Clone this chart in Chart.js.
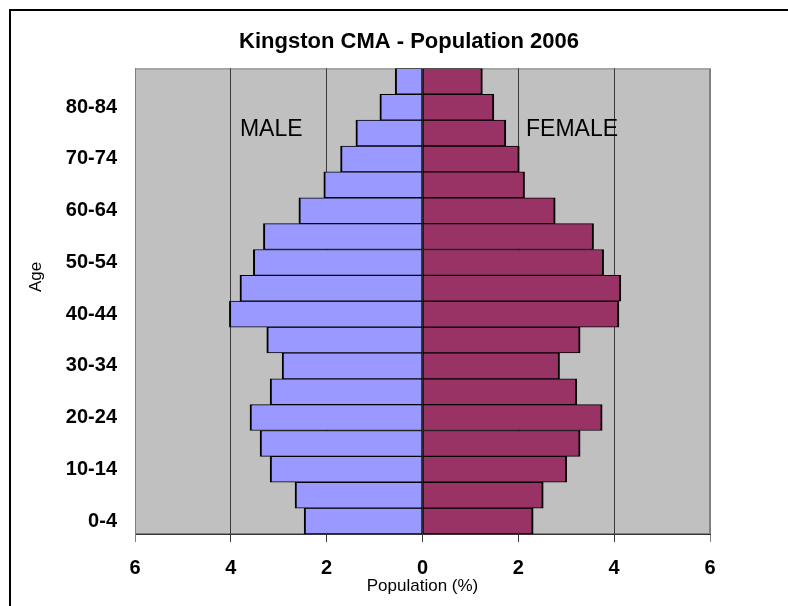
<!DOCTYPE html>
<html lang="en">
<head>
    <meta charset="UTF-8">
    <title>Kingston CMA - Population 2006</title>
    <script src="https://cdn.jsdelivr.net/npm/chart.js"></script>
    <style>
        body {
            margin: 0;
            overflow: hidden;
            background: #ffffff;
            font-family: 'Liberation Sans', Arial, sans-serif;
        }
        /* chart frame, runs off the right and bottom of the window */
        .chart-box {
            position: absolute;
            left: 9px;
            top: 9px;
            width: 800px;
            height: 620px;
            border: 2px solid #000;
            box-sizing: border-box;
        }
    </style>
</head>
<body>
    <div class="chart-box">
        <canvas id="pyramid"></canvas>
    </div>

    <script>
        const ageGroups = ['0-4', '5-9', '10-14', '15-19', '20-24', '25-29', '30-34', '35-39', '40-44',
                           '45-49', '50-54', '55-59', '60-64', '65-69', '70-74', '75-79', '80-84', '85+'];
        const malePct   = [2.47, 2.66, 3.18, 3.39, 3.60, 3.18, 2.93, 3.25, 4.03,
                           3.81, 3.53, 3.32, 2.58, 2.06, 1.71, 1.39, 0.89, 0.57];
        const femalePct = [2.31, 2.52, 3.01, 3.29, 3.75, 3.22, 2.86, 3.29, 4.10,
                           4.14, 3.78, 3.57, 2.77, 2.13, 2.02, 1.74, 1.49, 1.25];
        const xTicks = [-6, -4, -2, 0, 2, 4, 6];

        const FONT = "'Liberation Sans', Arial, sans-serif";

        // grey plot background + thin grey frame
        const plotBackground = {
            id: 'plotBackground',
            beforeDraw(chart) {
                const { ctx, chartArea: a } = chart;
                ctx.save();
                ctx.fillStyle = '#C0C0C0';
                ctx.fillRect(a.left, a.top, a.right - a.left, a.bottom - a.top);
                ctx.strokeStyle = '#808080';
                ctx.lineWidth = 1;
                ctx.strokeRect(a.left + 0.5, a.top + 0.5, a.right - a.left - 1, a.bottom - a.top - 1);
                ctx.restore();
            }
        };

        // MALE / FEMALE labels inside the plot and the rotated "Age" title
        const sideLabels = {
            id: 'sideLabels',
            afterDatasetsDraw(chart) {
                const { ctx, scales: { x, y } } = chart;
                const base = y.getPixelForValue(ageGroups.indexOf('75-79')) + 3;
                ctx.save();
                ctx.fillStyle = '#000';
                ctx.font = '23px ' + FONT;
                ctx.textBaseline = 'alphabetic';
                ctx.textAlign = 'left';
                ctx.fillText('MALE', x.getPixelForValue(-3.81), base);
                ctx.fillText('FEMALE', x.getPixelForValue(2.16), base);

                ctx.font = '17px ' + FONT;
                ctx.textAlign = 'center';
                ctx.textBaseline = 'middle';
                ctx.translate(25, 266);
                ctx.rotate(-Math.PI / 2);
                ctx.fillText('Age', 0, 0);
                ctx.restore();
            }
        };

        const ctx = document.getElementById('pyramid').getContext('2d');
        new Chart(ctx, {
            type: 'bar',
            data: {
                labels: ageGroups,
                datasets: [
                    {
                        label: 'Male',
                        data: malePct.map(v => -v),
                        backgroundColor: '#9999FF',
                        borderColor: '#000000',
                        borderWidth: { top: 1, bottom: 1, left: 2, right: 1 },
                        borderSkipped: false
                    },
                    {
                        label: 'Female',
                        data: femalePct,
                        backgroundColor: '#993366',
                        borderColor: '#000000',
                        borderWidth: { top: 1, bottom: 1, left: 1, right: 2 },
                        borderSkipped: false
                    }
                ]
            },
            options: {
                indexAxis: 'y',
                responsive: true,
                maintainAspectRatio: false,
                animation: false,
                barPercentage: 1,
                categoryPercentage: 1,
                scales: {
                    x: {
                        stacked: true,
                        min: -6,
                        max: 6,
                        afterBuildTicks: scale => {
                            scale.ticks = xTicks.map(v => ({ value: v }));
                        },
                        afterFit: scale => { scale.height = 93; },
                        grid: {
                            color: c => (c.tick && Math.abs(c.tick.value) === 6) ? '#808080' : '#3a3a3a',
                            lineWidth: 1,
                            tickLength: 8
                        },
                        border: { display: true, color: '#333333', width: 1 },
                        ticks: {
                            color: '#000',
                            padding: 14,
                            font: { family: FONT, size: 20, weight: 'bold' },
                            callback: v => Math.abs(v)
                        },
                        title: {
                            display: true,
                            text: 'Population (%)',
                            color: '#000',
                            font: { family: FONT, size: 17 },
                            padding: { top: 0, bottom: 30 }
                        }
                    },
                    y: {
                        stacked: true,
                        reverse: true,
                        afterFit: scale => { scale.width = 124; },
                        grid: { display: false, drawTicks: false },
                        border: { display: true, color: '#808080' },
                        ticks: {
                            autoSkip: false,
                            color: '#000',
                            padding: 18,
                            font: { family: FONT, size: 20, weight: 'bold' },
                            callback: (v, i) => (i % 2 === 0 ? ageGroups[i] : '')
                        }
                    },
                    // empty space to the right of the plot (chart frame is wider than the plot)
                    yRight: {
                        type: 'linear',
                        position: 'right',
                        afterFit: scale => { scale.width = 97; },
                        grid: { display: false, drawTicks: false },
                        border: { display: false },
                        ticks: { display: false }
                    }
                },
                plugins: {
                    legend: { display: false },
                    tooltip: { enabled: false },
                    title: {
                        display: true,
                        text: 'Kingston CMA - Population 2006',
                        color: '#000',
                        font: { family: FONT, size: 22, weight: 'bold' },
                        padding: { top: 18, bottom: 13 }
                    }
                }
            },
            plugins: [plotBackground, sideLabels]
        });
    </script>
</body>
</html>
